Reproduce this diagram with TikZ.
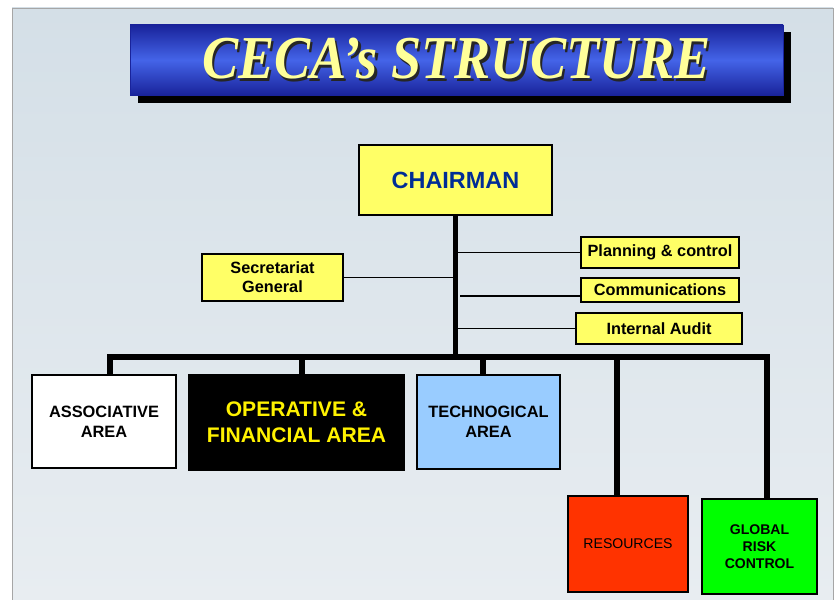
\documentclass[tikz,border=0pt]{standalone}
\usepackage{fontspec}
\setmainfont{Liberation Sans}
\newfontfamily\titlefont{Liberation Serif}
\usetikzlibrary{calc}

\definecolor{boxyellow}{RGB}{255,255,102}
\definecolor{titleyellow}{RGB}{255,255,153}
\definecolor{titledark}{RGB}{25,35,155}
\definecolor{titlemid}{RGB}{68,100,232}
\definecolor{chairblue}{RGB}{0,45,150}
\definecolor{techblue}{RGB}{153,204,255}
\definecolor{resred}{RGB}{255,51,0}
\definecolor{riskgreen}{RGB}{0,255,0}
\definecolor{slidetop}{RGB}{212,223,231}
\definecolor{slidebot}{RGB}{232,237,241}

% one unit of the picture
\def\pix{0.03cm}
% title text with its dark shadow
\def\shadowtext#1{\makebox[0pt][l]{\hspace{2.2pt}\raisebox{-2.2pt}{\color{black!85}#1}}#1}

\tikzset{
	unit/.style={draw=black, line width=1.2pt, align=center, inner sep=0pt},
	staff/.style={unit, fill=boxyellow, font=\bfseries\fontsize{13.9}{16}\selectfont},
	area/.style={unit, font=\bfseries\fontsize{14}{17}\selectfont},
	trunk/.style={line width=5pt},
	branch/.style={line width=1.4pt},
}

\begin{document}
\begin{tikzpicture}[x=\pix, y=\pix]
		%%%%% START %%%%%
		\useasboundingbox (0,0) rectangle (835,600);
		
		% slide background
		\shade[top color=slidetop, bottom color=slidebot] (12,0) rectangle (833,592);
		\draw[gray!70, line width=0.8pt] (12,0) -- (12,592) -- (833,592) -- (833,0);
		
		% title banner
		\draw[fill=black] (138,498) rectangle (790,568);
		\node[draw=titledark, line width=0.6pt, top color=titledark, bottom color=titledark, middle color=titlemid,
			minimum width=653*\pix, minimum height=70*\pix] (title) at (456.5,540) {};
		\node[text=titleyellow, font=\titlefont\bfseries\itshape\fontsize{52}{52}\selectfont]
			(titletext) at (title.center) {\scalebox{0.89}[1]{\shadowtext{CECA’s STRUCTURE}}};
		
		% top of the chart
		\node[staff, minimum width=193*\pix, minimum height=70*\pix, font=\bfseries\fontsize{20}{24}\selectfont,
			text=chairblue] (chair) at (455.5,420) {CHAIRMAN};
		\node[staff, minimum width=141*\pix, minimum height=47*\pix] (sec) at (272.5,322.5) {Secretariat\\General};
		\node[staff, minimum width=158*\pix, minimum height=31*\pix] (plan) at (660,347.5) {Planning \& control};
		\node[staff, minimum width=158*\pix, minimum height=24*\pix] (comm) at (660,310) {Communications};
		\node[staff, minimum width=166*\pix, minimum height=31*\pix] (audit) at (659,271.5) {Internal Audit};
		
		% areas
		\node[area, fill=white, minimum width=144*\pix, minimum height=93*\pix] (assoc) at (104,178.5) {ASSOCIATIVE\\AREA};
		\node[area, fill=black, text=yellow, minimum width=215*\pix, minimum height=95*\pix,
			font=\bfseries\fontsize{18}{22}\selectfont] (oper) at (296.5,177.5) {OPERATIVE \&\\FINANCIAL AREA};
		\node[area, fill=techblue, minimum width=143*\pix, minimum height=94*\pix] (tech) at (488.5,178) {TECHNOGICAL\\AREA};
		\node[area, fill=resred, minimum width=120*\pix, minimum height=96*\pix,
			font=\fontsize{12}{14}\selectfont] (res) at (628,56) {RESOURCES};
		\node[area, fill=riskgreen, minimum width=115*\pix, minimum height=95*\pix,
			font=\bfseries\fontsize{12}{14.5}\selectfont] (risk) at (759.5,53.5) {GLOBAL\\RISK\\CONTROL};
		
		% main lines
		\coordinate (barL) at (107,243);
		\coordinate (barR) at (770,243);
		\draw[trunk] (chair.south) -- (chair.south |- barL);
		\draw[trunk] (barL) -- (barR);
		\draw[trunk] ([xshift=6*\pix]assoc.north) -- ([xshift=6*\pix]assoc.north |- barL);
		\draw[trunk] ([xshift=5.5*\pix]oper.north) -- ([xshift=5.5*\pix]oper.north |- barL);
		\draw[trunk] ([xshift=-5.5*\pix]tech.north) -- ([xshift=-5.5*\pix]tech.north |- barL);
		\draw[trunk] ([xshift=-11*\pix]res.north) -- ([xshift=-11*\pix]res.north |- barL);
		\draw[trunk] ([xshift=7.5*\pix]risk.north) -- ([xshift=7.5*\pix]risk.north |- barL);
		
		% staff lines
		\draw[branch] (sec.east) -- (sec.east -| chair.south);
		\draw[branch] (plan.west) -- (plan.west -| chair.south);
		\coordinate (commend) at (460,304);
		\draw[branch] (commend) -- (commend -| comm.west);
		\draw[branch] (audit.west) -- (audit.west -| chair.south);
		
		%%%%% END %%%%%
	\end{tikzpicture}
\end{document}
